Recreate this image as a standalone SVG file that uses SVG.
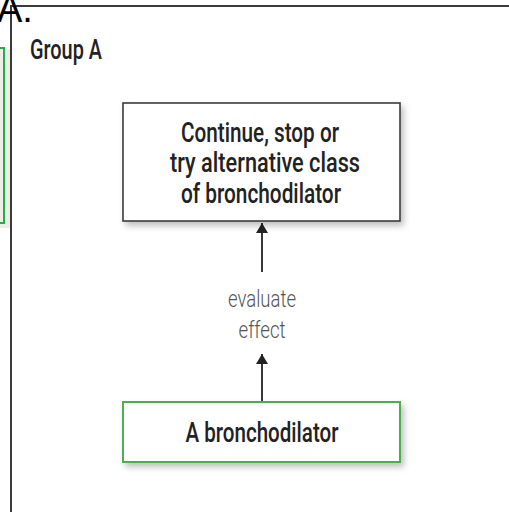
<svg xmlns="http://www.w3.org/2000/svg" width="509" height="512" viewBox="0 0 509 512">
<style>
.frame{stroke:#3a3a3a;stroke-width:2;fill:none}
.box{fill:#fff;stroke:#3c3c3c;stroke-width:1.6}
.gbox{fill:#fff;stroke:#4caf50;stroke-width:2}
.t{font-family:Roboto,"Liberation Sans",Arial,sans-serif;font-weight:500;font-size:27px;fill:#222;text-anchor:middle}
.lbl{font-family:Roboto,"Liberation Sans",Arial,sans-serif;font-weight:300;font-size:24px;fill:#555;text-anchor:middle}
.conn{stroke:#222;stroke-width:1.8;fill:none}
</style>
<defs>
<filter id="sh" x="-10%" y="-20%" width="130%" height="150%">
<feDropShadow dx="3" dy="4" stdDeviation="3" flood-color="#000" flood-opacity="0.25"/>
</filter>
<marker id="ah" viewBox="0 0 10 12" refX="10" refY="6" markerWidth="10" markerHeight="12" markerUnits="userSpaceOnUse" orient="auto">
<path d="M0,0 L10,6 L0,12 Z" fill="#222"/>
</marker>
</defs>
<rect width="509" height="512" fill="#fff"/>
<g id="left-panel">
<rect x="-2" y="49" width="12" height="179" fill="#efede6"/>
<rect x="-6" y="48" width="10" height="175" fill="none" stroke="#1eb050" stroke-width="2"/>
</g>
<g id="frame">
<line class="frame" x1="10" y1="6" x2="509" y2="6"/>
<line class="frame" x1="11" y1="6" x2="11" y2="512"/>
</g>
<text x="-3" y="22" font-family="Liberation Sans,Arial,sans-serif" font-size="38" fill="#000">A.</text>
<text x="30" y="59" font-family="Roboto,Liberation Sans,Arial,sans-serif" font-weight="500" font-size="27" fill="#222" textLength="72" lengthAdjust="spacingAndGlyphs">Group A</text>
<g id="connectors">
<line class="conn" x1="262" y1="272" x2="262" y2="223" marker-end="url(#ah)"/>
<line class="conn" x1="262" y1="402" x2="262" y2="354" marker-end="url(#ah)"/>
<text class="lbl" x="262" y="307" textLength="68" lengthAdjust="spacingAndGlyphs">evaluate</text>
<text class="lbl" x="262" y="338" textLength="47" lengthAdjust="spacingAndGlyphs">effect</text>
</g>
<g id="node-continue">
<rect class="box" x="123" y="103" width="277" height="118" filter="url(#sh)"/>
<text class="t" x="260" y="142" textLength="158" lengthAdjust="spacingAndGlyphs">Continue, stop or</text>
<text class="t" x="265" y="172" textLength="190" lengthAdjust="spacingAndGlyphs">try alternative class</text>
<text class="t" x="261" y="203" textLength="160" lengthAdjust="spacingAndGlyphs">of bronchodilator</text>
</g>
<g id="node-bronchodilator">
<rect class="gbox" x="123" y="402" width="277" height="60" filter="url(#sh)"/>
<text class="t" x="262" y="442" textLength="153" lengthAdjust="spacingAndGlyphs">A bronchodilator</text>
</g>
</svg>
